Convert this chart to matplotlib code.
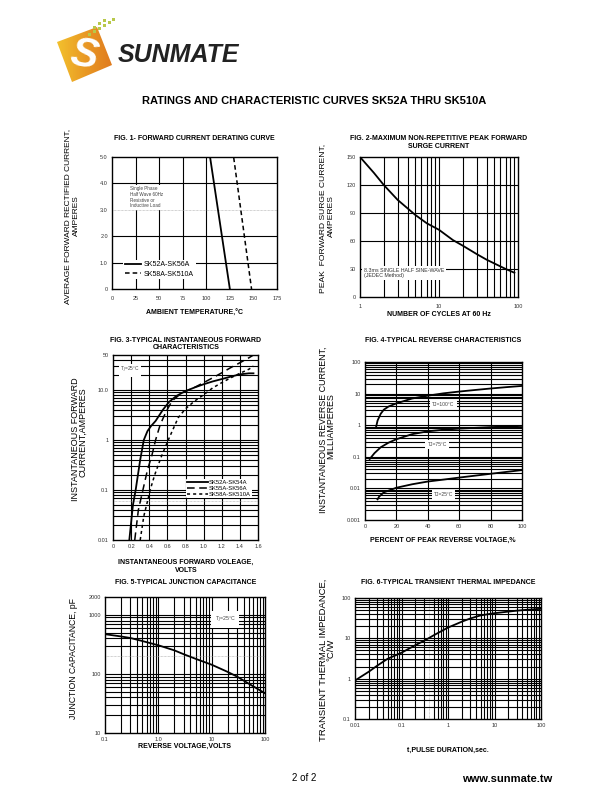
import matplotlib.pyplot as plt
import numpy as np
from matplotlib.patches import Polygon
from matplotlib.colors import LinearSegmentedColormap

plt.rcParams['font.family'] = ['Liberation Sans', 'DejaVu Sans']

# ---- data ----
# Fig 1 derating
temp_a = [0, 104, 125]
amps_a = [5.0, 5.0, 0.0]
temp_b = [0, 129, 148]
amps_b = [5.0, 5.0, 0.0]

# Fig 2 surge current
cycles = [1, 1.5, 2, 3, 4, 5, 7, 10, 15, 20, 30, 40, 50, 70, 90]
surge = [150, 133, 120, 104, 95, 88, 79, 72, 61, 55, 46, 40, 36, 30, 26]

# Fig 3 forward characteristics
vf_a = [0.18, 0.22, 0.25, 0.30, 0.34, 0.38, 0.42, 0.47, 0.55, 0.62, 0.70, 0.80, 0.90, 1.00, 1.10, 1.20, 1.30, 1.40, 1.50, 1.55]
if_a = [0.01, 0.05, 0.1, 0.4, 1.0, 1.5, 1.9, 2.4, 4.0, 5.8, 7.6, 9.5, 11.2, 13.0, 14.8, 16.5, 18.5, 20.5, 21.5, 21.5]
vf_b = [0.24, 0.28, 0.33, 0.38, 0.43, 0.47, 0.52, 0.58, 0.65, 0.75, 0.89, 1.00, 1.10, 1.20, 1.30, 1.40, 1.50, 1.55]
if_b = [0.01, 0.04, 0.1, 0.25, 0.5, 1.0, 2.0, 3.5, 6.0, 8.5, 11, 14, 17.5, 22, 28, 35, 44, 50]
vf_c = [0.30, 0.34, 0.39, 0.41, 0.46, 0.53, 0.61, 0.66, 0.72, 0.80, 0.90, 1.00, 1.10, 1.20, 1.30, 1.40, 1.50, 1.55]
if_c = [0.01, 0.03, 0.07, 0.1, 0.2, 0.45, 1.0, 1.6, 2.8, 4.2, 6.0, 8.0, 11, 14, 17.5, 21.5, 26, 30]

# Fig 4 reverse characteristics
pct_100 = [7, 8, 10, 12, 15, 20, 30, 40, 50, 60, 70, 80, 90, 100]
ir_100 = [0.85, 1.4, 2.3, 3.1, 3.9, 4.9, 7.0, 8.6, 10.2, 11.6, 13.0, 14.5, 16.0, 17.5]
pct_75 = [3, 6, 10, 15, 20, 30, 40, 50, 60, 80, 100]
ir_75 = [0.085, 0.13, 0.2, 0.28, 0.36, 0.52, 0.64, 0.72, 0.78, 0.87, 0.95]
pct_25 = [8, 9, 12, 20, 30, 40, 50, 60, 80, 100]
ir_25 = [0.0045, 0.0055, 0.0075, 0.0105, 0.0135, 0.0165, 0.019, 0.022, 0.029, 0.038]

# Fig 5 junction capacitance
vr = [0.1, 0.2, 0.3, 0.5, 1, 2, 3, 5, 10, 20, 30, 50, 100]
cj = [470, 430, 405, 360, 305, 250, 215, 180, 143, 108, 90, 68, 47]

# Fig 6 transient thermal impedance
tp = [0.01, 0.02, 0.03, 0.05, 0.1, 0.2, 0.3, 0.5, 1, 2, 3, 5, 10, 20, 30, 50, 100]
zth = [0.9, 1.5, 2.1, 3.1, 4.4, 6.8, 8.6, 12, 18.5, 26, 31, 37, 42, 46, 48.5, 51, 54]

W, H = 610, 810
fig = plt.figure(figsize=(6.1, 8.1), dpi=100)


def box(l, t, r, b):
    return [l / W, 1 - b / H, (r - l) / W, (b - t) / H]


def put(x, y, s, **kw):
    kw.setdefault('ha', 'center')
    kw.setdefault('va', 'center')
    fig.text(x / W, 1 - y / H, s, **kw)


def log_lines(lo, hi):
    out = []
    for e in range(int(np.floor(np.log10(lo))), int(np.ceil(np.log10(hi))) + 1):
        for m in range(1, 10):
            v = m * 10.0 ** e
            if lo * 1.0001 < v < hi * 0.9999:
                out.append(v)
    return out


def draw_grid(ax, xs, ys, faint_x=(), faint_y=()):
    for v in xs:
        faint = any(np.isclose(v, f) for f in faint_x)
        ax.axvline(v, color='0.65' if faint else 'k', lw=0.5 if faint else 0.8,
                   ls=(0, (1, 1)) if faint else '-', zorder=1)
    for v in ys:
        faint = any(np.isclose(v, f) for f in faint_y)
        ax.axhline(v, color='0.65' if faint else 'k', lw=0.5 if faint else 0.8,
                   ls=(0, (1, 1)) if faint else '-', zorder=1)


def style(ax):
    ax.tick_params(length=0, labelsize=4, labelcolor='#333333', pad=3)
    for s in ax.spines.values():
        s.set_linewidth(1.0)
        s.set_zorder(5)


# ---- page header ----
ax0 = fig.add_axes([0, 0, 1, 1], zorder=-1)
ax0.set_xlim(0, W)
ax0.set_ylim(H, 0)
ax0.axis('off')
logo = Polygon([(57, 42), (97, 27), (112, 65), (72, 82)], closed=True, fc='none', ec='none')
ax0.add_patch(logo)
cmap = LinearSegmentedColormap.from_list('lg', ['#f3c22e', '#e99a24', '#e07a1e'])
img = ax0.imshow(np.linspace(0, 1, 64)[None, :], cmap=cmap, extent=(56, 113, 83, 26), aspect='auto')
img.set_clip_path(logo)
ax0.set_xlim(0, W)
ax0.set_ylim(H, 0)
ax0.text(84, 56, 'S', color='white', fontsize=30, fontweight='bold', fontstyle='italic',
         ha='center', va='center', rotation=-10)
for dx, dy in [(88, 33), (93, 30), (98, 27), (93, 26), (103, 24), (98, 22), (108, 21), (103, 19), (112, 18)]:
    ax0.add_patch(plt.Rectangle((dx, dy), 2.5, 2.5, color='#b8c84a', lw=0))
ax0.text(118, 55, 'SUNMATE', fontsize=18, fontweight='heavy', fontstyle='italic',
         color='#222222', ha='left', va='center')

put(314, 101, 'RATINGS AND CHARACTERISTIC CURVES SK52A THRU SK510A', fontsize=8, fontweight='bold')
put(304, 778, '2 of 2', fontsize=7)
put(507, 779, 'www.sunmate.tw', fontsize=8, fontweight='bold')

# ---- Fig 1 ----
ax1 = fig.add_axes(box(112, 157, 277, 289))
style(ax1)
ax1.set_xlim(0, 175)
ax1.set_ylim(0, 5)
ax1.set_xticks([0, 25, 50, 75, 100, 125, 150, 175])
ax1.set_yticks([0, 1, 2, 3, 4, 5])
ax1.set_yticklabels(['0', '1.0', '2.0', '3.0', '4.0', '5.0'])
ax1.tick_params(axis='x', pad=5)
draw_grid(ax1, [25, 50, 75, 100], [1, 2, 3, 4], faint_y=[3])
ax1.plot(temp_a, amps_a, color='k', lw=1.3, zorder=4, label='SK52A-SK56A')
ax1.plot(temp_b, amps_b, color='k', lw=1.1, ls=(0, (3, 2)), zorder=4, label='SK58A-SK510A')
ax1.text(19, 3.05, 'Single Phase\nHalf Wave 60Hz\nResistive or\nInductive Load', fontsize=3.3,
         color='#444444', ha='left', va='bottom', linespacing=1.2, zorder=3,
         bbox=dict(fc='white', ec='none', pad=1))
lg = ax1.legend(loc='lower left', bbox_to_anchor=(12, 0.38), bbox_transform=ax1.transData,
                fontsize=5, handlelength=2.4, handletextpad=0.4, labelspacing=0.35,
                frameon=True, facecolor='white', edgecolor='none', framealpha=1,
                borderpad=0.2, borderaxespad=0)
lg.set_zorder(3)
put(194, 138, 'FIG. 1- FORWARD CURRENT DERATING CURVE', fontsize=5, fontweight='bold')
put(194, 313, 'AMBIENT TEMPERATURE,°C', fontsize=5, fontweight='bold')
put(68, 216, 'AVERAGE FORWARD RECTIFIED CURRENT,', fontsize=6, rotation=90)
put(76, 216, 'AMPERES', fontsize=6, rotation=90)

# ---- Fig 2 ----
ax2 = fig.add_axes(box(360, 157, 518, 297))
style(ax2)
ax2.set_xscale('log')
ax2.set_xlim(1, 100)
ax2.set_ylim(0, 150)
ax2.set_xticks([1, 10, 100])
ax2.set_xticklabels(['1', '10', '100'])
ax2.xaxis.set_minor_locator(plt.NullLocator())
ax2.set_yticks([0, 30, 60, 90, 120, 150])
ax2.tick_params(axis='x', pad=5)
draw_grid(ax2, log_lines(1, 100), [30, 60, 90, 120])
ax2.plot(cycles, surge, color='k', lw=1.3, zorder=4)
ax2.text(1.12, 31, '8.3ms SINGLE HALF SINE-WAVE\n(JEDEC Method)', fontsize=3.8, color='#333333',
         ha='left', va='top', linespacing=1.1, zorder=3, bbox=dict(fc='white', ec='none', pad=1.2))
put(439, 139, 'FIG. 2-MAXIMUM NON-REPETITIVE PEAK FORWARD', fontsize=5, fontweight='bold')
put(439, 146, 'SURGE CURRENT', fontsize=5, fontweight='bold')
put(439, 314, 'NUMBER OF CYCLES AT 60 Hz', fontsize=5, fontweight='bold')
put(323, 218, 'PEAK  FORWARD SURGE CURRENT,', fontsize=6.1, rotation=90)
put(331.5, 216, 'AMPERES', fontsize=6.1, rotation=90)

# ---- Fig 3 ----
ax3 = fig.add_axes(box(113, 355, 258, 540))
style(ax3)
ax3.set_yscale('log')
ax3.set_xlim(0, 1.6)
ax3.set_ylim(0.01, 50)
ax3.set_xticks(np.arange(0, 1.61, 0.2))
ax3.set_xticklabels(['0', '0.2', '0.4', '0.6', '0.8', '1.0', '1.2', '1.4', '1.6'])
ax3.set_yticks([0.01, 0.1, 1, 10, 50])
ax3.set_yticklabels(['0.01', '0.1', '1', '10.0', '50'])
ax3.yaxis.set_minor_locator(plt.NullLocator())
draw_grid(ax3, [0.2, 0.4, 0.6, 0.8, 1.0, 1.2, 1.4], log_lines(0.01, 50), faint_y=[0.06])
ax3.plot(vf_a, if_a, color='k', lw=1.3, zorder=4, label='SK52A-SK54A')
ax3.plot(vf_b, if_b, color='k', lw=1.1, ls=(0, (5, 3)), zorder=4, label='SK55A-SK56A')
ax3.plot(vf_c, if_c, color='k', lw=1.1, ls=(0, (2, 2)), zorder=4, label='SK58A-SK510A')
ax3.text(0.08, 25, 'T$_J$=25°C', fontsize=3.5, color='#444444', ha='left', va='center', zorder=3,
         bbox=dict(fc='white', ec='none', pad=1))
lg3 = ax3.legend(loc='upper left', bbox_to_anchor=(0.8, 0.165), bbox_transform=ax3.transData,
                 fontsize=4.2, handlelength=3.6, handletextpad=0.2, labelspacing=0.15,
                 frameon=True, facecolor='white', edgecolor='none', framealpha=1,
                 borderpad=0.2, borderaxespad=0)
lg3.set_zorder(3)
put(186, 341, 'FIG. 3-TYPICAL INSTANTANEOUS FORWARD', fontsize=5, fontweight='bold')
put(186, 348, 'CHARACTERISTICS', fontsize=5, fontweight='bold')
put(186, 562, 'INSTANTANEOUS FORWARD VOLEAGE,', fontsize=5, fontweight='bold')
put(186, 570, 'VOLTS', fontsize=5, fontweight='bold')
put(75, 439, 'INSTANTANEOUS FORWARD', fontsize=6.5, rotation=90)
put(83, 432, 'CURRENT,AMPERES', fontsize=6.5, rotation=90)

# ---- Fig 4 ----
ax4 = fig.add_axes(box(365, 362, 522, 520))
style(ax4)
ax4.set_yscale('log')
ax4.set_xlim(0, 100)
ax4.set_ylim(0.001, 100)
ax4.set_xticks([0, 20, 40, 60, 80, 100])
ax4.set_yticks([0.001, 0.01, 0.1, 1, 10, 100])
ax4.set_yticklabels(['0.001', '0.01', '0.1', '1', '10', '100'])
ax4.yaxis.set_minor_locator(plt.NullLocator())
draw_grid(ax4, [20, 40, 60, 80], log_lines(0.001, 100))
ax4.plot(pct_100, ir_100, color='k', lw=1.3, zorder=4)
ax4.plot(pct_75, ir_75, color='k', lw=1.3, zorder=4)
ax4.plot(pct_25, ir_25, color='k', lw=1.3, zorder=4)
for tx, ty, s in [(50, 4.4, 'TJ=100°C'), (46, 0.25, 'TJ=75°C'), (50, 0.0062, 'TJ=25°C')]:
    ax4.text(tx, ty, s, fontsize=3.6, color='#444444', ha='center', va='center', zorder=3,
             bbox=dict(fc='white', ec='none', pad=1.5))
put(443, 341, 'FIG. 4-TYPICAL REVERSE CHARACTERISTICS', fontsize=5, fontweight='bold')
put(443, 540, 'PERCENT OF PEAK REVERSE VOLTAGE,%', fontsize=5, fontweight='bold')
put(323, 430, 'INSTANTANEOUS REVERSE CURRENT,', fontsize=6.4, rotation=90)
put(331, 426, 'MILLIAMPERES', fontsize=6.4, rotation=90)

# ---- Fig 5 ----
ax5 = fig.add_axes(box(105, 597, 265, 733))
style(ax5)
ax5.set_xscale('log')
ax5.set_yscale('log')
ax5.set_xlim(0.1, 100)
ax5.set_ylim(10, 2000)
ax5.set_xticks([0.1, 1, 10, 100])
ax5.set_xticklabels(['0.1', '1.0', '10', '100'])
ax5.set_yticks([10, 100, 1000, 2000])
ax5.set_yticklabels(['10', '100', '1000', '2000'])
ax5.xaxis.set_minor_locator(plt.NullLocator())
ax5.yaxis.set_minor_locator(plt.NullLocator())
draw_grid(ax5, log_lines(0.1, 100), log_lines(10, 2000), faint_y=[200])
ax5.plot(vr, cj, color='k', lw=1.3, zorder=4)
ax5.text(18, 820, 'T$_J$=25°C', fontsize=3.8, color='#444444', ha='center', va='center', zorder=3,
         bbox=dict(fc='white', ec='none', pad=2.5))
put(186, 582, 'FIG. 5-TYPICAL JUNCTION CAPACITANCE', fontsize=5, fontweight='bold')
put(185, 746, 'REVERSE VOLTAGE,VOLTS', fontsize=5, fontweight='bold')
put(74, 659, 'JUNCTION CAPACITANCE, pF', fontsize=6.2, rotation=90)

# ---- Fig 6 ----
ax6 = fig.add_axes(box(355, 598, 541, 719))
style(ax6)
ax6.set_xscale('log')
ax6.set_yscale('log')
ax6.set_xlim(0.01, 100)
ax6.set_ylim(0.1, 100)
ax6.set_xticks([0.01, 0.1, 1, 10, 100])
ax6.set_xticklabels(['0.01', '0.1', '1', '10', '100'])
ax6.set_yticks([0.1, 1, 10, 100])
ax6.set_yticklabels(['0.1', '1', '10', '100'])
ax6.xaxis.set_minor_locator(plt.NullLocator())
ax6.yaxis.set_minor_locator(plt.NullLocator())
draw_grid(ax6, log_lines(0.01, 100), log_lines(0.1, 100), faint_x=[0.4])
ax6.plot(tp, zth, color='k', lw=1.3, zorder=4)
put(448, 582, 'FIG. 6-TYPICAL TRANSIENT THERMAL IMPEDANCE', fontsize=5, fontweight='bold')
put(448, 750, 't,PULSE DURATION,sec.', fontsize=5, fontweight='bold')
put(323, 660, 'TRANSIENT THERMAL IMPEDANCE,', fontsize=6.8, rotation=90)
put(331, 650, '°C/W', fontsize=6.8, rotation=90)

plt.savefig('out.png', dpi=100)
